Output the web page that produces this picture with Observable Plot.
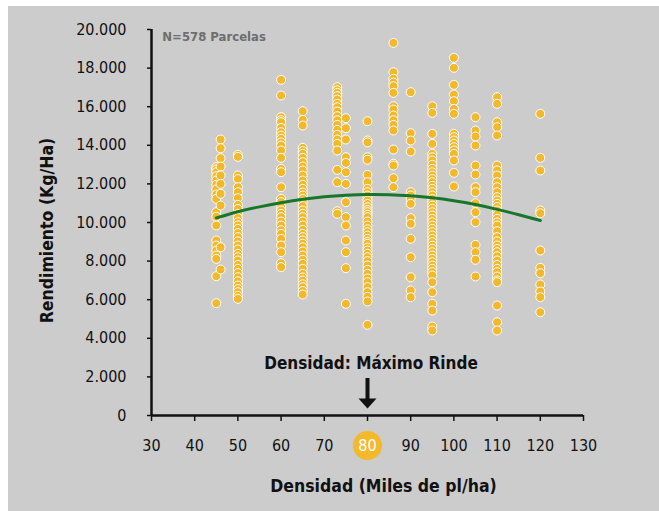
<!DOCTYPE html>
<html><head><meta charset="utf-8">
<script src="https://cdn.jsdelivr.net/npm/d3@7"></script>
<script src="https://cdn.jsdelivr.net/npm/@observablehq/plot@0.6"></script>
<style>
html,body{margin:0;padding:0;background:#fff;}
#chart{position:absolute;left:8px;top:6px;width:651px;height:505px;background:#cccccc;}
</style></head><body><div id="chart"></div>
<script>
// Densities (thousand plants/ha) of each column of plots
const densidades = [45, 46, 50, 60, 65, 73, 75, 80, 86, 90, 95, 100, 105, 110, 120];
// Yields (kg/ha) read for each column
const r45 = [12866, 12750, 12607, 12400, 12175, 11950, 11709, 11450, 11226, 10535, 10300, 9844, 9067, 8808, 8550, 8290, 8118, 7218, 5819];
const r46 = [14300, 13850, 13332, 12900, 12434, 12000, 11486, 10880, 8720, 7564];
const r50 = [13506, 13400, 12434, 12250, 11830, 11570, 11260, 10915, 10700, 10450, 10230, 10017, 9850, 9671, 9450, 9240, 9020, 8808, 8600, 8376, 8200, 8031, 7800, 7600, 7380, 7165, 6950, 6735, 6550, 6389, 6200, 6044];
const r60 = [17392, 16579, 15456, 15300, 15197, 14900, 14679, 14500, 14334, 14150, 13989, 13730, 13350, 12780, 12607, 11830, 11226, 11053, 10795, 10620, 10450, 10277, 10050, 9844, 9600, 9412, 9154, 8808, 8462, 7893, 7686];
const r65 = [15767, 15318, 15025, 13868, 13700, 13557, 13350, 13125, 12900, 12693, 12430, 12175, 11950, 11743, 11550, 11398, 11220, 11053, 10850, 10621, 10450, 10277, 10050, 9844, 9620, 9412, 9240, 9067, 8900, 8720, 8500, 8290, 8070, 7859, 7600, 7341, 7150, 6994, 6800, 6647, 6450, 6269];
const r73 = [17010, 16850, 16718, 16550, 16372, 16150, 15974, 15750, 15507, 15300, 15059, 14800, 14541, 14300, 14075, 13730, 12728, 12088, 10584, 10450];
const r75 = [15404, 14886, 14300, 13382, 13090, 12607, 12002, 11053, 10277, 9844, 9067, 8462, 7634, 5787];
const r80 = [15248, 14248, 14150, 13382, 13250, 12469, 12088, 11743, 11570, 11398, 11250, 11139, 10960, 10793, 10650, 10535, 10400, 10277, 10050, 9844, 9650, 9498, 9320, 9153, 9000, 8895, 8700, 8549, 8380, 8203, 8000, 7772, 7550, 7341, 7100, 6906, 6650, 6389, 6150, 5906, 4700];
const r86 = [19307, 17787, 17443, 17250, 17062, 16718, 16024, 15850, 15543, 15300, 15059, 14766, 13782, 13040, 12950, 12295, 11830];
const r90 = [16752, 14627, 14248, 13678, 11570, 11400, 11226, 10968, 10223, 9932, 9154, 8203, 7165, 6476, 6130];
const r95 = [16024, 15680, 14593, 14075, 13557, 13380, 13212, 12990, 12780, 12600, 12434, 12250, 12088, 11900, 11743, 11570, 11398, 11220, 11053, 10880, 10707, 10530, 10362, 10190, 10017, 9840, 9671, 9500, 9326, 9150, 8981, 8800, 8635, 8460, 8290, 8120, 7945, 7770, 7600, 7430, 7254, 6906, 6389, 5787, 5440, 4611, 4404];
const r100 = [18532, 18014, 17133, 16631, 16284, 15888, 15629, 14593, 14420, 14248, 14075, 13903, 13730, 13557, 13212, 12572, 11864];
const r105 = [15456, 14766, 14455, 13989, 12952, 12486, 11830, 11570, 11000, 10535, 10017, 8843, 8462, 8066, 7201];
const r110 = [16492, 16149, 15197, 14937, 14507, 12952, 12700, 12434, 12088, 11830, 11570, 11312, 11140, 10968, 10800, 10621, 10400, 10191, 10000, 9844, 9550, 9240, 9020, 8808, 8630, 8462, 8250, 8031, 7800, 7600, 7427, 7200, 7000, 6906, 5699, 4834, 4404];
const r120 = [15629, 13350, 12693, 10621, 10480, 8549, 7651, 7373, 6787, 6424, 6130, 5352];
const rendimientos = [r45, r46, r50, r60, r65, r73, r75, r80, r86, r90, r95, r100, r105, r110, r120];

// Fitted trend curve
const curvaX = [45, 50, 55, 60, 65, 70, 75, 80, 85, 90, 95, 100, 105, 110, 115, 120];
const curvaY = [10240, 10560, 10810, 11020, 11200, 11330, 11410, 11450, 11440, 11380, 11280, 11130, 10930, 10680, 10400, 10100];

// Axis ticks and labels
const xTicks = [30, 40, 50, 60, 70, 80, 90, 100, 110, 120, 130];
const xTickLabels = ["30", "40", "50", "60", "70", "80", "90", "100", "110", "120", "130"];
const yTicks = [0, 2000, 4000, 6000, 8000, 10000, 12000, 14000, 16000, 18000, 20000];
const yTickLabels = ["0", "2.000", "4.000", "6.000", "8.000", "10.000", "12.000", "14.000", "16.000", "18.000", "20.000"];
const densidadMaxima = 80;

const tituloY = "Rendimiento (Kg/Ha)";
const tituloX = "Densidad (Miles de pl/ha)";
const anotacion = "Densidad: Máximo Rinde";
const nota = "N=578 Parcelas";

const puntos = [];
densidades.forEach((d, i) => rendimientos[i].forEach(v => puntos.push({densidad: d, rendimiento: v})));
const curva = curvaX.map((x, i) => ({x, y: curvaY[i]}));

const orange = "#f4b82b";
const green = "#16772a";
const font = '"Liberation Sans Narrow","Arial Narrow","DejaVu Sans Condensed","Roboto Condensed",sans-serif';

const downTriangle = {
  draw(ctx, size) {
    const r = Math.sqrt(size / Math.PI);
    ctx.moveTo(-r, -r * 0.55);
    ctx.lineTo(r, -r * 0.55);
    ctx.lineTo(0, r * 0.55);
    ctx.closePath();
  }
};

const plot = Plot.plot({
  width: 651, height: 505,
  marginLeft: 143, marginRight: 76, marginTop: 23, marginBottom: 96,
  style: {background: "#cccccc", fontFamily: font, color: "#111", overflow: "visible"},
  x: {domain: [30, 130], label: null},
  y: {domain: [0, 20000], label: null},
  marks: [
    Plot.axisY({ticks: yTicks, tickFormat: d => yTickLabels[yTicks.indexOf(d)], tickSize: 4, tickPadding: 21, fontSize: 16, strokeWidth: 1.5, label: null}),
    Plot.dot([densidadMaxima], {x: d => d, frameAnchor: "bottom", dy: 30, r: 14.5, fill: orange}),
    Plot.axisX({ticks: xTicks, tickFormat: d => d === densidadMaxima ? "" : xTickLabels[xTicks.indexOf(d)], tickSize: 6, tickPadding: 18, fontSize: 16, strokeWidth: 1.5, label: null}),
    Plot.text([densidadMaxima], {x: d => d, text: d => xTickLabels[xTicks.indexOf(d)], frameAnchor: "bottom", dy: 30, fill: "white", fontSize: 16, lineAnchor: "middle"}),
    Plot.ruleY([0], {strokeWidth: 2.5, stroke: "#111"}),
    Plot.ruleX([30], {strokeWidth: 2.5, stroke: "#111"}),
    Plot.dot(puntos, {x: "densidad", y: "rendimiento", r: 4.5, fill: orange, stroke: "white", strokeWidth: 1}),
    Plot.line(curva, {x: "x", y: "y", stroke: green, strokeWidth: 3, curve: "natural"}),
    Plot.text([nota], {x: 32.5, y: 19600, textAnchor: "start", fontWeight: "bold", fontSize: 13, fill: "#6e6e6e"}),
    Plot.text([anotacion], {x: densidadMaxima, y: 2694, dx: 3.5, fontWeight: "bold", fontSize: 17, fill: "#111"}),
    Plot.ruleX([densidadMaxima], {y1: 1917, y2: 800, strokeWidth: 4, stroke: "#111"}),
    Plot.dot([densidadMaxima], {x: d => d, y: 622, r: 9, symbol: downTriangle, fill: "#111", stroke: "none"}),
    Plot.text([tituloY], {frameAnchor: "left", textAnchor: "middle", lineAnchor: "middle", dx: -104.5, dy: 8, rotate: -90, fontWeight: "bold", fontSize: 17.5, fill: "#111"}),
    Plot.text([tituloX], {frameAnchor: "bottom", textAnchor: "middle", dx: 16, dy: 71, lineAnchor: "middle", fontWeight: "bold", fontSize: 17.5, fill: "#111"})
  ]
});
document.getElementById("chart").appendChild(plot);
</script></body></html>
